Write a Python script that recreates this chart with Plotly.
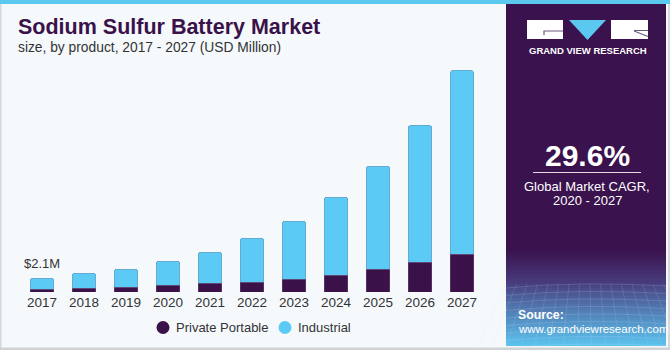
import plotly.graph_objects as go

years = ["2017", "2018", "2019", "2020", "2021", "2022", "2023", "2024", "2025", "2026", "2027"]
private_portable = [0.45, 0.60, 0.75, 1.05, 1.35, 1.50, 1.95, 2.55, 3.45, 4.50, 5.70]
industrial = [1.65, 2.25, 2.70, 3.60, 4.65, 6.60, 8.70, 11.70, 15.45, 20.55, 27.60]
series_names = ["Private Portable", "Industrial"]
series_colors = ["#3A1149", "#5BCBF5"]
first_label = "$2.1M"

W, H = 670, 350
def px(x):
    return x / W
def py(y):
    return 1 - y / H

fig = go.Figure()
for name, vals, col in zip(series_names, [private_portable, industrial], series_colors):
    fig.add_trace(go.Bar(x=years, y=vals, name=name,
                         marker=dict(color=col, line=dict(width=0.6, color="rgba(120,110,150,0.6)")),
                         showlegend=False))

FONT = "Liberation Sans, Arial, sans-serif"
shapes = []
annotations = []
# page background
shapes.append(dict(type="rect", xref="paper", yref="paper", x0=0, x1=1, y0=0, y1=1,
                   fillcolor="#F5F9FC", line=dict(width=0), layer="below"))
# right panel
PX0, PX1 = 506, 666
shapes.append(dict(type="rect", xref="paper", yref="paper", x0=px(PX0), x1=px(PX1), y0=py(346), y1=py(0),
                   fillcolor="#3A124D", line=dict(width=0), layer="below"))
def lerp(a, b, t):
    return tuple(int(round(a[i] + (b[i] - a[i]) * t)) for i in range(3))
c0 = (58, 18, 77)
c1 = (72, 60, 125)
c2 = (92, 196, 238)
y_start, y_mid, y_end = 250, 283, 346
steps = 48
for i in range(steps):
    ya = y_start + (y_end - y_start) * i / steps
    yb = y_start + (y_end - y_start) * (i + 1) / steps
    ym = (ya + yb) / 2
    if ym < y_mid:
        c = lerp(c0, c1, (ym - y_start) / (y_mid - y_start))
    else:
        c = lerp(c1, c2, ((ym - y_mid) / (y_end - y_mid)) ** 0.9)
    shapes.append(dict(type="rect", xref="paper", yref="paper", x0=px(PX0), x1=px(PX1), y0=py(yb), y1=py(ya),
                       fillcolor="rgb(%d,%d,%d)" % c, line=dict(width=0), layer="below"))
for k in range(9):
    yy = 285 + k * 7.5
    shapes.append(dict(type="path", xref="paper", yref="paper",
                       path="M %f,%f Q %f,%f %f,%f" % (px(PX0), py(yy + 3), px(580), py(yy - 4), px(PX1), py(yy + 1)),
                       line=dict(color="rgba(200,220,255,0.22)", width=0.8), layer="below"))
for k in range(16):
    xx = PX0 + k * 10.5
    shapes.append(dict(type="line", xref="paper", yref="paper", x0=px(xx), x1=px(xx + (xx - 586) * 0.35), y0=py(284), y1=py(346),
                       line=dict(color="rgba(200,220,255,0.18)", width=0.8), layer="below"))
# top blue stripe
shapes.append(dict(type="rect", xref="paper", yref="paper", x0=0, x1=1, y0=py(4), y1=1,
                   fillcolor="#5BC8F0", line=dict(width=0), layer="below"))
# outer borders
shapes.append(dict(type="rect", xref="paper", yref="paper", x0=0, x1=px(1.5), y0=0, y1=py(4),
                   fillcolor="#D5D8DC", line=dict(width=0)))
shapes.append(dict(type="rect", xref="paper", yref="paper", x0=px(668), x1=1, y0=0, y1=py(4),
                   fillcolor="#D5D8DC", line=dict(width=0)))
shapes.append(dict(type="rect", xref="paper", yref="paper", x0=0, x1=1, y0=0, y1=py(347.5),
                   fillcolor="#D0D3D6", line=dict(width=0)))
# logo
shapes.append(dict(type="rect", xref="paper", yref="paper", x0=px(527), x1=px(563), y0=py(39), y1=py(20),
                   fillcolor="white", line=dict(width=0)))
shapes.append(dict(type="path", xref="paper", yref="paper",
                   path="M %f,%f L %f,%f L %f,%f" % (px(544), py(35), px(544), py(31), px(563), py(31)),
                   line=dict(color="#6C5A84", width=1.2)))
shapes.append(dict(type="path", xref="paper", yref="paper",
                   path="M %f,%f L %f,%f L %f,%f Z" % (px(569), py(20), px(606), py(20), px(587.5), py(40)),
                   fillcolor="#5BC8F0", line=dict(width=0)))
shapes.append(dict(type="rect", xref="paper", yref="paper", x0=px(611), x1=px(648), y0=py(39), y1=py(20),
                   fillcolor="white", line=dict(width=0)))
shapes.append(dict(type="line", xref="paper", yref="paper", x0=px(634), x1=px(648), y0=py(30.5), y1=py(30.5),
                   line=dict(color="#6C5A84", width=1)))
shapes.append(dict(type="line", xref="paper", yref="paper", x0=px(634), x1=px(648), y0=py(31), y1=py(36.5),
                   line=dict(color="#6C5A84", width=1.2)))
# CAGR separator line
shapes.append(dict(type="line", xref="paper", yref="paper", x0=px(533), x1=px(641), y0=py(172.5), y1=py(172.5),
                   line=dict(color="rgba(255,255,255,0.85)", width=1)))

# manual legend with round markers
legend_marker_x = [163, 285]
for name, col, mx in zip(series_names, series_colors, legend_marker_x):
    r = 6.5
    shapes.append(dict(type="circle", xref="paper", yref="paper", x0=px(mx - r), x1=px(mx + r),
                       y0=py(327.5 + r), y1=py(327.5 - r), fillcolor=col, line=dict(width=0)))
    annotations.append(dict(text=name, xref="paper", yref="paper", x=px(mx + 11), y=py(327.5),
                            xanchor="left", yanchor="middle", align="left", showarrow=False,
                            font=dict(family=FONT, size=13, color="#333333")))

annotations += [
    dict(text="<b>Sodium Sulfur Battery Market</b>", xref="paper", yref="paper", x=px(15.5), y=py(27.5),
         xanchor="left", yanchor="middle", align="left", showarrow=False, font=dict(family=FONT, size=21.5, color="#3A1149")),
    dict(text="size, by product, 2017 - 2027 (USD Million)", xref="paper", yref="paper", x=px(16), y=py(48),
         xanchor="left", yanchor="middle", align="left", showarrow=False, font=dict(family=FONT, size=13.8, color="#333333")),
    # category index 0 -> first year's bar
    dict(text=first_label, xref="x", yref="y", x=0, y=private_portable[0] + industrial[0],
         xanchor="center", yanchor="bottom", yshift=5, showarrow=False, font=dict(family=FONT, size=13, color="#333333")),
    dict(text="<b>GRAND VIEW RESEARCH</b>", xref="paper", yref="paper", x=px(587.5), y=py(51),
         xanchor="center", yanchor="middle", showarrow=False, font=dict(family=FONT, size=9.5, color="white")),
    dict(text="<b>29.6%</b>", xref="paper", yref="paper", x=px(587), y=py(155),
         xanchor="center", yanchor="middle", showarrow=False, font=dict(family=FONT, size=30, color="white")),
    dict(text="Global Market CAGR,", xref="paper", yref="paper", x=px(587), y=py(186),
         xanchor="center", yanchor="middle", showarrow=False, font=dict(family=FONT, size=13, color="white")),
    dict(text="2020 - 2027", xref="paper", yref="paper", x=px(587), y=py(200.5),
         xanchor="center", yanchor="middle", showarrow=False, font=dict(family=FONT, size=13, color="white")),
    dict(text="<b>Source:</b>", xref="paper", yref="paper", x=px(516), y=py(315),
         xanchor="left", yanchor="middle", align="left", showarrow=False, font=dict(family=FONT, size=12.3, color="white")),
    dict(text="www.grandviewresearch.com", xref="paper", yref="paper", x=px(516), y=py(329),
         xanchor="left", yanchor="middle", align="left", showarrow=False, font=dict(family=FONT, size=11.5, color="white")),
]

fig.update_layout(
    width=W, height=H, margin=dict(l=0, r=0, t=0, b=0, autoexpand=False),
    paper_bgcolor="#F5F9FC", plot_bgcolor="rgba(0,0,0,0)",
    barmode="stack", bargap=0.43, barcornerradius=3, showlegend=False,
    font=dict(family=FONT, size=13, color="#333333"),
    xaxis=dict(type="category", range=[-0.5, len(years) - 0.5], domain=[px(21), px(483)], showgrid=False,
               zeroline=False, showline=False, ticks="", automargin=False,
               tickfont=dict(size=13.5, color="#333333"), fixedrange=True),
    yaxis=dict(domain=[py(292), py(59)], range=[0, 35], visible=False, fixedrange=True, automargin=False),
    shapes=shapes, annotations=annotations,
)

fig.write_html("out.html")
